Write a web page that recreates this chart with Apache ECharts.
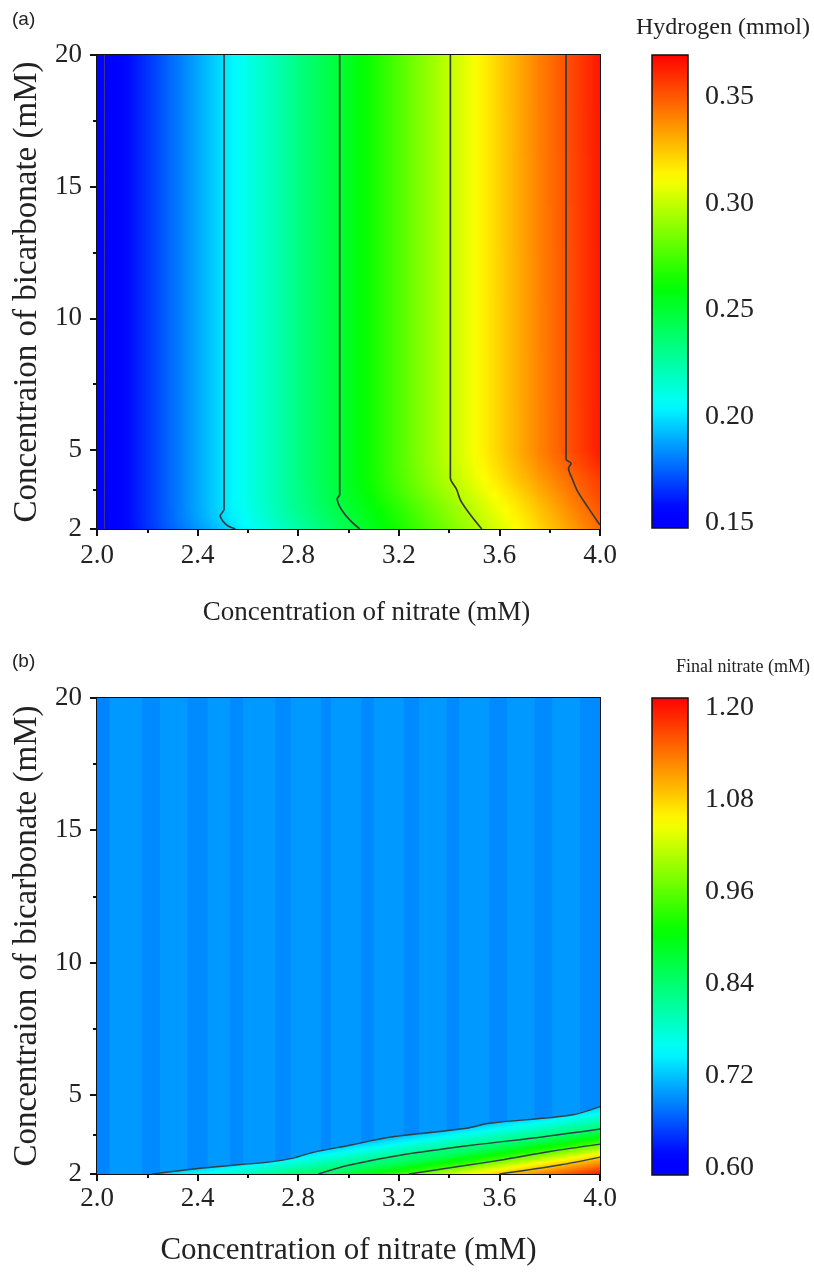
<!DOCTYPE html>
<html>
<head>
<meta charset="utf-8">
<script src="https://cdn.jsdelivr.net/npm/echarts@6/dist/echarts.min.js"></script>
<style>
html, body { margin: 0; padding: 0; background: #fff; }
#chart { width: 814px; height: 1274px; }
</style>
</head>
<body>
<div id="chart"></div>
<script>
// ---- axes ----
const nitrateRange = [2.0, 4.0];
const bicarbRange = [2, 20];
const bicarbTicks = [2, 5, 10, 15, 20];
const bicarbMinorTicks = [3.5, 7.5, 12.5, 17.5];
const hydrogenTicks = [0.15, 0.20, 0.25, 0.30, 0.35];
const hydrogenRange = [0.1477, 0.3697];
const finalTicks = [0.60, 0.72, 0.84, 0.96, 1.08, 1.20];
const finalRange = [0.59, 1.212];

// ---- panel (a): hydrogen at grid nodes (rows = bicarbonate, cols = nitrate) ----
const nitrateNodes = [2.0, 2.25, 2.5, 2.75, 3.0, 3.25, 3.5, 3.75, 4.0];
const bicarbNodes = [2, 2.5, 3, 3.5, 4, 4.5, 5, 20];
const hydrogen = [
  [0.145, 0.171, 0.195, 0.220, 0.245, 0.270, 0.295, 0.320, 0.345],
  [0.145, 0.172, 0.199, 0.224, 0.248, 0.273, 0.298, 0.323, 0.349],
  [0.145, 0.172, 0.200, 0.226, 0.251, 0.276, 0.301, 0.326, 0.352],
  [0.145, 0.172, 0.200, 0.227, 0.253, 0.280, 0.305, 0.330, 0.355],
  [0.145, 0.172, 0.200, 0.227, 0.254, 0.282, 0.308, 0.334, 0.357],
  [0.145, 0.172, 0.200, 0.227, 0.254, 0.283, 0.310, 0.337, 0.361],
  [0.145, 0.172, 0.200, 0.227, 0.254, 0.283, 0.311, 0.339, 0.364],
  [0.145, 0.172, 0.200, 0.227, 0.254, 0.283, 0.311, 0.340, 0.365]
];
// contour lines of panel (a), [nitrate, bicarbonate]
const h015 = [[2.03, 2], [2.03, 20]];
const h020 = [[2.505, 20], [2.505, 2.75], [2.49, 2.5], [2.50, 2.3], [2.52, 2.12], [2.55, 2.0]];
const h025 = [[2.965, 20], [2.965, 3.3], [2.955, 3.15], [2.965, 2.85], [2.99, 2.5], [3.02, 2.2], [3.045, 2.0]];
const h030 = [[3.405, 20], [3.405, 3.95], [3.43, 3.5], [3.445, 3.1], [3.48, 2.6], [3.53, 2.0]];
const h035 = [[3.865, 20], [3.865, 4.65], [3.885, 4.5], [3.875, 4.3], [3.89, 3.9], [3.91, 3.45], [3.95, 2.85], [4.0, 2.15]];

// ---- panel (b): final nitrate ----
const stripeEdges = [2.0, 2.05, 2.18, 2.25, 2.36, 2.44, 2.53, 2.58, 2.71, 2.77, 2.89, 2.93,
  3.05, 3.10, 3.22, 3.28, 3.39, 3.44, 3.56, 3.63, 3.74, 3.81, 3.92, 4.0];
const finalNitrateBg = [0.686, 0.697, 0.689, 0.697, 0.689, 0.697, 0.689, 0.697, 0.689, 0.697, 0.689,
  0.697, 0.689, 0.697, 0.689, 0.697, 0.689, 0.697, 0.689, 0.697, 0.689, 0.697, 0.689];
const finalLevels = [0.72, 0.84, 0.96, 1.08, 1.20];
const f072 = [[2.22, 2], [2.41, 2.22], [2.69, 2.46], [2.78, 2.6], [2.86, 2.82], [3.0, 3.08], [3.17, 3.4],
  [3.47, 3.73], [3.56, 3.92], [3.88, 4.22], [4.0, 4.55]];
const f084 = [[2.88, 2.0], [3.0, 2.33], [3.21, 2.72], [3.5, 3.1], [3.77, 3.4], [4.0, 3.7]];
const f096 = [[3.24, 2.0], [3.45, 2.3], [3.62, 2.55], [3.8, 2.85], [4.0, 3.13]];
const f108 = [[3.6, 2.0], [3.84, 2.34], [4.0, 2.64]];
const finalContours = [f072, f084, f096, f108];
const bandDepth = [22, 16, 13, 17];

const jet = ['#0000ff', '#0000ff', '#00ffff', '#00ff00', '#ffff00', '#ff0000'];
const jetStops = [0, 0.04, 0.26, 0.51, 0.74, 1];
function colorOf(v, range) {
  let t = (v - range[0]) / (range[1] - range[0]);
  t = Math.max(0, Math.min(1, t));
  let i = 0;
  while (i < jetStops.length - 2 && t > jetStops[i + 1]) i++;
  const f = (t - jetStops[i]) / (jetStops[i + 1] - jetStops[i]);
  return echarts.color.lerp(f, [jet[i], jet[i + 1]]);
}

function gradientStops(v0, v1, range, n) {
  const stops = [];
  for (let i = 0; i <= n; i++) {
    stops.push({ offset: i / n, color: colorOf(v0 + (v1 - v0) * i / n, range) });
  }
  return stops;
}

// cells: [x0, x1, y0, y1, v(x0,y0), v(x1,y0), v(x0,y1), v(x1,y1)]
const cellsA = [];
for (let r = 0; r < bicarbNodes.length - 1; r++) {
  for (let c = 0; c < nitrateNodes.length - 1; c++) {
    cellsA.push([nitrateNodes[c], nitrateNodes[c + 1], bicarbNodes[r], bicarbNodes[r + 1],
      hydrogen[r][c], hydrogen[r][c + 1], hydrogen[r + 1][c], hydrogen[r + 1][c + 1]]);
  }
}
const cellsB = [];
for (let c = 0; c < stripeEdges.length - 1; c++) {
  const v = finalNitrateBg[c];
  cellsB.push([stripeEdges[c], stripeEdges[c + 1], bicarbRange[0], bicarbRange[1], v, v, v, v]);
}

function cellRenderer(range, strips) {
  return function (params, api) {
    const x0 = api.value(0), x1 = api.value(1), y0 = api.value(2), y1 = api.value(3);
    const v00 = api.value(4), v10 = api.value(5), v01 = api.value(6), v11 = api.value(7);
    const n = (v00 === v01 && v10 === v11) ? 1 : strips;
    const children = [];
    for (let s = 0; s < n; s++) {
      const ya = y0 + (y1 - y0) * s / n, yb = y0 + (y1 - y0) * (s + 1) / n;
      const f = (s + 0.5) / n;
      const vl = v00 + (v01 - v00) * f, vr = v10 + (v11 - v10) * f;
      const p0 = api.coord([x0, yb]);
      const p1 = api.coord([x1, ya]);
      children.push({
        type: 'rect',
        shape: { x: p0[0], y: p0[1], width: p1[0] - p0[0] + 0.8, height: p1[1] - p0[1] + 1 },
        style: { fill: new echarts.graphic.LinearGradient(0, 0, 1, 0, gradientStops(vl, vr, range, 6)) }
      });
    }
    return { type: 'group', children };
  };
}

function renderBand(params, api) {
  const k = api.value(0);
  const line = finalContours[k];
  const pts = line.map(p => api.coord(p));
  pts.push(api.coord([nitrateRange[1], bicarbRange[0]]));
  const a = api.coord(line[0]);
  const b = api.coord(line[line.length - 1]);
  const dx = b[0] - a[0], dy = b[1] - a[1], L = Math.hypot(dx, dy);
  const nx = -dy / L, ny = dx / L;
  const mx = (a[0] + b[0]) / 2, my = (a[1] + b[1]) / 2;
  const d = bandDepth[k];
  return {
    type: 'polygon',
    shape: { points: pts },
    style: {
      fill: new echarts.graphic.LinearGradient(mx, my, mx + nx * d, my + ny * d,
        gradientStops(finalLevels[k], finalLevels[k + 1], finalRange, 6), true)
    }
  };
}

function renderColorbar(range) {
  return function (params, api) {
    const p0 = api.coord([0, range[1]]);
    const p1 = api.coord([1, range[0]]);
    return {
      type: 'rect',
      shape: { x: p0[0], y: p0[1], width: p1[0] - p0[0], height: p1[1] - p0[1] },
      style: {
        fill: new echarts.graphic.LinearGradient(0, 1, 0, 0, gradientStops(range[0], range[1], range, 40)),
        stroke: '#111', lineWidth: 1.5
      }
    };
  };
}

const serif = 'Liberation Serif';
const tickFont = { fontFamily: serif, fontSize: 27, color: '#222' };

function plotAxes(gridIndex, xGap, xFont, xPad, xMargin) {
  const x = [
    {
      gridIndex, type: 'value', min: nitrateRange[0], max: nitrateRange[1], interval: 0.4,
      name: 'Concentration of nitrate (mM)', nameLocation: 'middle', nameGap: xGap,
      nameTextStyle: { fontFamily: serif, fontSize: xFont, color: '#222', padding: [0, 0, 0, xPad] },
      axisLine: { lineStyle: { color: '#111', width: 2 } },
      axisTick: { length: 7, lineStyle: { color: '#111', width: 2 } },
      minorTick: { show: true, splitNumber: 2, length: 4, lineStyle: { color: '#111', width: 2 } },
      axisLabel: { ...tickFont, margin: xMargin, formatter: v => v.toFixed(1) },
      splitLine: { show: false }
    },
    {
      gridIndex, type: 'value', position: 'top', min: nitrateRange[0], max: nitrateRange[1],
      axisLine: { lineStyle: { color: '#111', width: 2 } },
      axisTick: { show: false }, axisLabel: { show: false }, splitLine: { show: false }
    }
  ];
  const y = [
    {
      gridIndex, type: 'value', position: 'left', min: bicarbRange[0], max: bicarbRange[1],
      name: 'Concentraion of bicarbonate (mM)', nameLocation: 'middle', nameGap: 45,
      nameTextStyle: { fontFamily: serif, fontSize: 33, color: '#222' },
      axisLine: { lineStyle: { color: '#111', width: 2 } },
      axisTick: { customValues: bicarbTicks, length: 7, lineStyle: { color: '#111', width: 2 } },
      axisLabel: { ...tickFont, margin: 15, customValues: bicarbTicks },
      splitLine: { show: false }
    },
    {
      gridIndex, type: 'value', position: 'left', min: bicarbRange[0], max: bicarbRange[1],
      axisLine: { show: false },
      axisTick: { customValues: bicarbMinorTicks, length: 4, lineStyle: { color: '#111', width: 2 } },
      axisLabel: { show: false }, splitLine: { show: false }
    },
    {
      gridIndex, type: 'value', position: 'right', min: bicarbRange[0], max: bicarbRange[1],
      axisLine: { show: true, lineStyle: { color: '#111', width: 2 } },
      axisTick: { show: false }, axisLabel: { show: false }, splitLine: { show: false }
    }
  ];
  return { x, y };
}

function colorbarAxes(gridIndex, range, ticks) {
  return {
    x: [{ gridIndex, type: 'value', min: 0, max: 1, show: false }],
    y: [{
      gridIndex, type: 'value', position: 'right', min: range[0], max: range[1],
      axisLine: { show: false },
      axisTick: { customValues: ticks, length: 7, lineStyle: { color: '#111', width: 2 } },
      axisLabel: { ...tickFont, fontSize: 28, margin: 17, customValues: ticks, formatter: v => v.toFixed(2) },
      splitLine: { show: false }
    }]
  };
}

const aAxes = plotAxes(0, 70, 27, 36, 13), aBar = colorbarAxes(1, hydrogenRange, hydrogenTicks);
const bAxes = plotAxes(2, 61, 31, 0, 11), bBar = colorbarAxes(3, finalRange, finalTicks);

const chart = echarts.init(document.getElementById('chart'), null, { renderer: 'canvas' });
chart.setOption({
  animation: false,
  backgroundColor: '#fff',
  grid: [
    { left: 97, top: 55, width: 503, height: 474 },
    { left: 652, top: 55, width: 36, height: 473 },
    { left: 97, top: 698, width: 503, height: 476 },
    { left: 652, top: 698, width: 36, height: 477 }
  ],
  // x: 0,1 (a) | 2 (a bar) | 3,4 (b) | 5 (b bar)
  xAxis: [...aAxes.x, ...aBar.x, ...bAxes.x, ...bBar.x],
  // y: 0,1,2 (a) | 3 (a bar) | 4,5,6 (b) | 7 (b bar)
  yAxis: [...aAxes.y, ...aBar.y, ...bAxes.y, ...bBar.y],
  graphic: [
    { type: 'text', left: 12, top: 10, style: { text: '(a)', font: '19px "Liberation Sans"', fill: '#222' } },
    { type: 'text', left: 12, top: 652, style: { text: '(b)', font: '19px "Liberation Sans"', fill: '#222' } },
    { type: 'text', right: 4, top: 16, style: { text: 'Hydrogen (mmol)', font: '24px "Liberation Serif"', fill: '#222' } },
    { type: 'text', right: 4, top: 658, style: { text: 'Final nitrate (mM)', font: '18px "Liberation Serif"', fill: '#222' } }
  ],
  series: [
    {
      type: 'custom', xAxisIndex: 0, yAxisIndex: 0, clip: true, z: 1,
      renderItem: cellRenderer(hydrogenRange, 8), data: cellsA, encode: { x: [0, 1], y: [2, 3] }
    },
    ...[h015, h020, h025, h030, h035].map((c, i) => ({
      type: 'line', xAxisIndex: 0, yAxisIndex: 0, data: c, showSymbol: false, smooth: 0.3, z: 3,
      lineStyle: { color: i === 0 ? 'rgba(70,70,110,0.8)' : '#3a3a3a', width: i === 0 ? 1 : 1.7 }
    })),
    {
      type: 'custom', xAxisIndex: 2, yAxisIndex: 3, z: 1,
      renderItem: renderColorbar(hydrogenRange), data: [[0]]
    },
    {
      type: 'custom', xAxisIndex: 3, yAxisIndex: 4, clip: true, z: 1,
      renderItem: cellRenderer(finalRange, 1), data: cellsB, encode: { x: [0, 1], y: [2, 3] }
    },
    {
      type: 'custom', xAxisIndex: 3, yAxisIndex: 4, clip: true, z: 2,
      renderItem: renderBand, data: [[0], [1], [2], [3]]
    },
    ...finalContours.map(c => ({
      type: 'line', xAxisIndex: 3, yAxisIndex: 4, data: c, showSymbol: false, smooth: 0.3, z: 3,
      lineStyle: { color: '#2f3f48', width: 1.4 }
    })),
    {
      type: 'custom', xAxisIndex: 5, yAxisIndex: 7, z: 1,
      renderItem: renderColorbar(finalRange), data: [[0]]
    }
  ]
});
</script>
</body>
</html>
